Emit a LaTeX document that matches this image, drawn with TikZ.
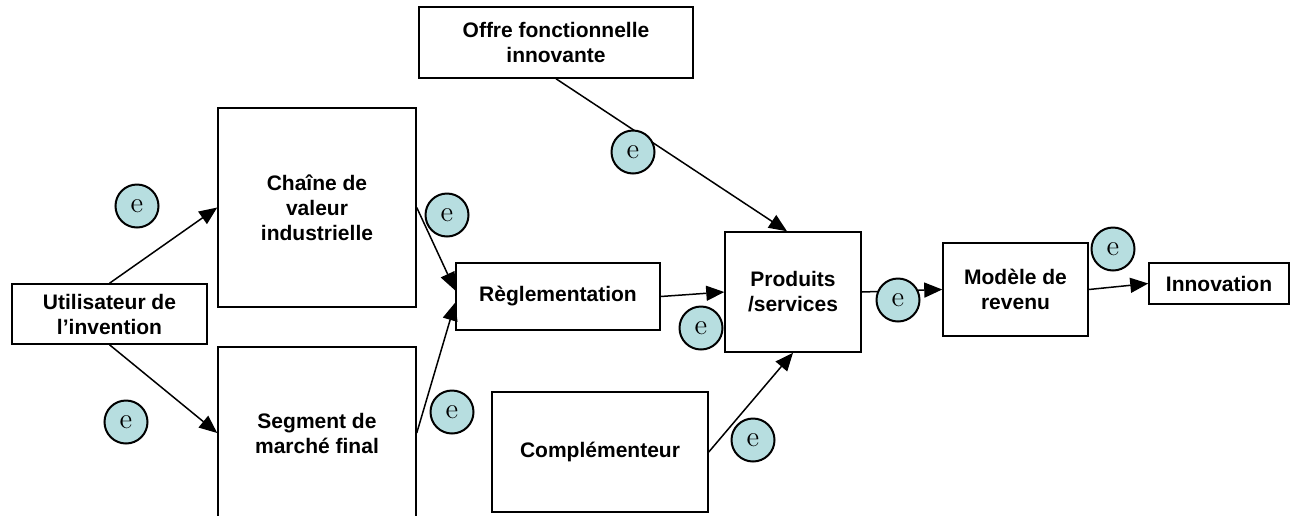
\documentclass[tikz,border=0pt]{standalone}
\usepackage{fontspec}
\newfontfamily\boxfont{Liberation Sans}
\usepackage{xcolor}
\usepackage{tikz}
\usetikzlibrary{arrows.meta}
\definecolor{epale}{RGB}{183,222,224}

\begin{document}
\begin{tikzpicture}[x=0.5pt,y=-0.5pt,
  box/.style={draw,line width=0.75pt,align=center,inner sep=0pt,
    font=\boxfont\bfseries\fontsize{10.5}{12.5}\selectfont},
  lien/.style={line width=0.75pt,-{Triangle[length=9pt,width=7.5pt]}},
  rond/.style={circle,draw,line width=1pt,fill=epale,minimum size=21.5pt,
    inner sep=0pt,font=\fontsize{14.5}{14.5}\selectfont}]
  \useasboundingbox (0,0) rectangle (1295,515);
  % boxes
  \node[box,minimum width=97.5pt,minimum height=30pt] (util) at (109.5,314) {Utilisateur de\\l’invention};
  \node[box,minimum width=99pt,minimum height=99.5pt] (chaine) at (317,207.5) {Chaîne de\\valeur\\industrielle};
  \node[box,minimum width=99pt,minimum height=86pt] (segment) at (317,433) {Segment de\\marché final};
  \node[box,minimum width=137pt,minimum height=35.5pt] (offre) at (556,42.5) {Offre fonctionnelle\\innovante};
  \node[box,minimum width=102pt,minimum height=33.5pt] (regl) at (558,296.5) {Règlementation};
  \node[box,minimum width=108pt,minimum height=60pt] (compl) at (600,452) {Complémenteur};
  \node[box,minimum width=68pt,minimum height=60pt] (prod) at (793,292) {Produits\\/services};
  \node[box,minimum width=72.5pt,minimum height=46.5pt] (modele) at (1015.5,289.5) {Modèle de\\revenu};
  \node[box,minimum width=70pt,minimum height=20.5pt] (innov) at (1219,283.5) {Innovation};
  % arrows
  \draw[lien] (util.north) -- (chaine.west);
  \draw[lien] (util.south) -- (segment.west);
  \draw[lien] (chaine.east) -- ([yshift=3pt]regl.west);
  \draw[lien] (segment.east) -- ([yshift=-3pt]regl.west);
  \draw[lien] (regl.east) -- (prod.west);
  \draw[lien] (offre.south) -- ([xshift=-3pt]prod.north);
  \draw[lien] (compl.east) -- (prod.south);
  \draw[lien] (prod.east) -- (modele.west);
  \draw[lien] (modele.east) -- (innov.west);
  % e circles
  \node[rond] (e1) at (137,206) {e};
  \node[rond] (e2) at (126,422) {e};
  \node[rond] (e3) at (447,215) {e};
  \node[rond] (e4) at (452,412) {e};
  \node[rond] (e5) at (633,152) {e};
  \node[rond] (e6) at (701,328) {e};
  \node[rond] (e7) at (753,440) {e};
  \node[rond] (e8) at (898,300) {e};
  \node[rond] (e9) at (1113,249) {e};
\end{tikzpicture}
\end{document}
